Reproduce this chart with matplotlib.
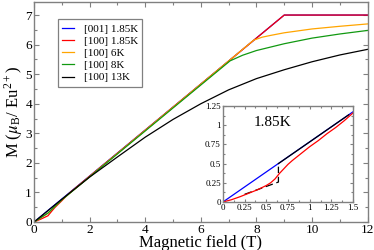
"""
Magnetisation curves M(B) with low-field inset.
"""

import matplotlib
matplotlib.use("Agg")
import matplotlib.pyplot as plt
from matplotlib.ticker import MultipleLocator, FuncFormatter

plt.rcParams["font.family"] = ["Liberation Serif", "DejaVu Serif"]
plt.rcParams["mathtext.fontset"] = "stix"

# main panel data (field in T, M in muB/Eu2+)
b_001 = [0, 9.0, 12]
m_001 = [0, 7.0, 7.0]

b_100_185 = [0, 0.25, 0.5, 0.64, 0.75, 1.0, 1.25, 1.5, 9.0, 12]
m_100_185 = [0, 0.10, 0.21, 0.37, 0.49, 0.72, 0.96, 1.16, 7.0, 7.0]

b_6k = [0, 0.5, 1.0, 7.9, 8.2, 8.5, 9, 10, 11, 12]
m_6k = [0, 0.30, 0.75, 6.15, 6.25, 6.31, 6.40, 6.53, 6.62, 6.70]

b_8k = [0, 0.5, 1.0, 7.05, 7.5, 8, 9, 10, 11, 12]
m_8k = [0, 0.30, 0.75, 5.45, 5.64, 5.80, 6.03, 6.22, 6.36, 6.48]

b_13k = [0, 1, 2, 3, 4, 5, 6, 7, 8, 9, 10, 11, 12]
m_13k = [0, 0.77, 1.52, 2.2, 2.87, 3.47, 4.0, 4.47, 4.85, 5.15, 5.42, 5.65, 5.84]

# inset data (1.85K)
bi_001 = [0, 1.5]
mi_001 = [0, 1.175]

bi_100 = [0, 0.1, 0.2, 0.3, 0.4, 0.5, 0.55, 0.6, 0.65, 0.7, 0.75, 0.8,
          0.9, 1.0, 1.1, 1.2, 1.3, 1.4, 1.5]
mi_100 = [0, 0.03, 0.07, 0.115, 0.16, 0.215, 0.25, 0.30, 0.37, 0.43, 0.49,
          0.54, 0.63, 0.72, 0.80, 0.89, 0.97, 1.06, 1.16]

bi_dash = [0.25, 0.64, 0.64]
mi_dash = [0.10, 0.26, 0.46]

bi_black = [0.64, 1.45]
mi_black = [0.50, 1.135]

grey = "#808080"


def style_axes(ax, size):
    for s in ax.spines.values():
        s.set_color(grey)
        s.set_linewidth(1.0)
    ax.tick_params(which="both", direction="in", top=True, right=True,
                   color=grey, labelsize=size, pad=1.5)
    ax.tick_params(which="major", length=3.5, width=0.8)
    ax.tick_params(which="minor", length=2, width=0.8)


fig = plt.figure(figsize=(3.74, 2.5), dpi=100)
ax = fig.add_axes([0.091, 0.112, 0.892, 0.881])

lw = 0.9
ax.plot(b_001, m_001, color="#0000ff", lw=lw, label="[001] 1.85K")
ax.plot(b_100_185, m_100_185, color="#ff0000", lw=lw, label="[100] 1.85K")
ax.plot(b_6k, m_6k, color="#ffa500", lw=lw, label="[100] 6K")
ax.plot(b_8k, m_8k, color="#119911", lw=lw, label="[100] 8K")
ax.plot(b_13k, m_13k, color="black", lw=lw, label="[100] 13K")

ax.set_xlim(0, 12)
ax.set_ylim(0, 7.45)
ax.xaxis.set_major_locator(MultipleLocator(2))
ax.xaxis.set_minor_locator(MultipleLocator(1))
ax.yaxis.set_major_locator(MultipleLocator(1))
ax.yaxis.set_minor_locator(MultipleLocator(0.5))
style_axes(ax, 9.5)
ax.set_xlabel("Magnetic field (T)", fontsize=12, labelpad=-1)
ax.set_ylabel(r"M ($\mu_\mathregular{B}$/ Eu$^\mathregular{2+}$)",
              fontsize=12, labelpad=0)

leg = ax.legend(loc="upper left", bbox_to_anchor=(0.072, 0.92),
                borderaxespad=0, fontsize=8, handlelength=1.0,
                handletextpad=0.9, labelspacing=0.22, borderpad=0.4,
                fancybox=False, framealpha=1)
leg.get_frame().set_edgecolor(grey)
leg.get_frame().set_linewidth(0.9)

# inset
ins = fig.add_axes([0.596, 0.192, 0.348, 0.384])
ins.plot(bi_001, mi_001, color="#0000ff", lw=lw)
ins.plot(bi_black, mi_black, color="black", lw=lw)
ins.plot(bi_dash, mi_dash, color="black", lw=lw, ls=(0, (6, 3)))
ins.plot(bi_100, mi_100, color="#ff0000", lw=lw)
ins.set_xlim(0, 1.5)
ins.set_ylim(0, 1.25)
ins.xaxis.set_major_locator(MultipleLocator(0.25))
ins.xaxis.set_minor_locator(MultipleLocator(0.125))
ins.yaxis.set_major_locator(MultipleLocator(0.25))
ins.yaxis.set_minor_locator(MultipleLocator(0.125))
fmt = FuncFormatter(lambda v, p: "%g" % v)
ins.xaxis.set_major_formatter(fmt)
ins.yaxis.set_major_formatter(fmt)
style_axes(ins, 6.5)
ins.tick_params(which="major", length=2.5)
ins.tick_params(which="minor", length=1.5)
ins.text(0.35, 1.03, "1.85K", fontsize=11, va="center")

fig.savefig("out.png", dpi=100)
